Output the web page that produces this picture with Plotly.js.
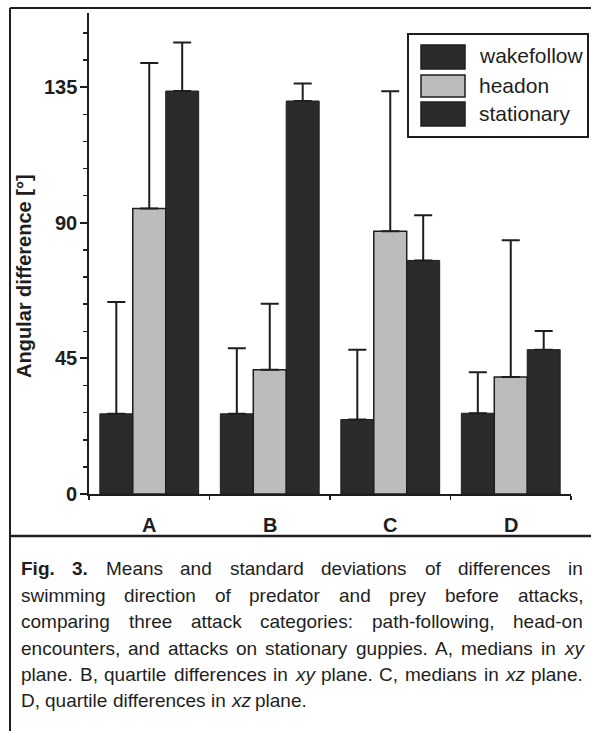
<!DOCTYPE html>
<html>
<head>
<meta charset="utf-8">
<script src="https://cdn.plot.ly/plotly-3.0.1.min.js"></script>
<style>html,body{margin:0;padding:0;background:#fff;}#chart{width:591px;height:731px;}</style>
</head>
<body>
<div id="chart"></div>
<script>
// ---- data ----
const categories = ['A', 'B', 'C', 'D'];
const seriesNames = ['wakefollow', 'headon', 'stationary'];
const wakefollow   = [26.6, 26.6, 24.7, 26.8];
const wakefollowSD = [37.1, 21.8, 23.2, 13.6];
const headon       = [94.7, 41.2, 87.2, 38.8];
const headonSD     = [48.3, 21.9, 46.4, 45.4];
const stationary   = [133.7, 130.4, 77.5, 47.9];
const stationarySD = [16.1, 5.8, 15.0, 6.2];
const yTickVals = [0, 45, 90, 135];
const yTickText = ['0', '45', '90', '135'];
const yAxisTitle = 'Angular difference [°]';
const captionLines = [
  [['Fig.', 'b'], ['3.', 'b'], ['Means'], ['and'], ['standard'], ['deviations'], ['of'], ['differences'], ['in']],
  [['swimming'], ['direction'], ['of'], ['predator'], ['and'], ['prey'], ['before'], ['attacks,']],
  [['comparing'], ['three'], ['attack'], ['categories:'], ['path-following,'], ['head-on']],
  [['encounters,'], ['and'], ['attacks'], ['on'], ['stationary'], ['guppies.'], ['A,'], ['medians'], ['in'], ['xy', 'i']],
  [['plane.'], ['B,'], ['quartile'], ['differences'], ['in'], ['xy', 'i'], ['plane.'], ['C,'], ['medians'], ['in'], ['xz', 'i'], ['plane.']],
  [['D,'], ['quartile'], ['differences'], ['in'], ['xz', 'i'], ['plane.']]
];

// ---- geometry helpers ----
const FW = 591, FH = 731;
const L = 89, R = 20, T = 13, B = 237;
const W = FW - L - R, H = FH - T - B;
const px = x => (x - L) / W;
const py = y => (FH - B - y) / H;
const FONT = '"Liberation Sans", Arial, Helvetica, sans-serif';
const INK = '#1e1e1e';
const DARK = '#2b2b2b';
const GRAY = '#bcbcbc';

function zeros(n) { const a = []; for (let i = 0; i < n; i++) a.push(0); return a; }

function errY(arr) {
  return {type: 'data', symmetric: false, array: arr, arrayminus: zeros(arr.length),
          color: INK, thickness: 2, width: 9};
}

const traces = [
  {type: 'bar', name: seriesNames[0], x: categories, y: wakefollow, error_y: errY(wakefollowSD),
   marker: {color: DARK, line: {color: INK, width: 1}}},
  {type: 'bar', name: seriesNames[1], x: categories, y: headon, error_y: errY(headonSD),
   marker: {color: GRAY, line: {color: INK, width: 1.5}}},
  {type: 'bar', name: seriesNames[2], x: categories, y: stationary, error_y: errY(stationarySD),
   marker: {color: DARK, line: {color: INK, width: 1}}}
];

const shapes = [];
const annotations = [];

// frame lines
function hline(x0, x1, y, w) { shapes.push({type: 'line', xref: 'paper', yref: 'paper', x0: px(x0), x1: px(x1), y0: py(y), y1: py(y), line: {color: INK, width: w || 2}}); }
function vline(x, y0, y1, w) { shapes.push({type: 'line', xref: 'paper', yref: 'paper', x0: px(x), x1: px(x), y0: py(y0), y1: py(y1), line: {color: INK, width: w || 2}}); }
hline(10, 600, 8, 2);
hline(10, 600, 536, 2.5);
vline(10, 8, 740, 2);

// custom legend
shapes.push({type: 'rect', xref: 'paper', yref: 'paper', x0: px(408), x1: px(588), y0: py(34), y1: py(137),
             line: {color: INK, width: 2}, fillcolor: 'rgba(0,0,0,0)'});
const swRows = [[45, 69], [75, 97], [102, 126]];
const swFill = [DARK, GRAY, DARK];
for (let i = 0; i < 3; i++) {
  shapes.push({type: 'rect', xref: 'paper', yref: 'paper', x0: px(421), x1: px(465),
               y0: py(swRows[i][0]), y1: py(swRows[i][1]), line: {color: INK, width: 1.5}, fillcolor: swFill[i]});
  annotations.push({xref: 'paper', yref: 'paper', x: px(478), y: py((swRows[i][0] + swRows[i][1]) / 2 - 1),
                    xanchor: 'left', yanchor: 'middle', showarrow: false, borderpad: 0,
                    text: seriesNames[i], font: {family: FONT, size: 21, color: INK}});
}

// y axis title
annotations.push({xref: 'paper', yref: 'paper', x: px(24), y: py(276), xanchor: 'center', yanchor: 'middle',
                  textangle: -90, showarrow: false, text: '<b>' + yAxisTitle + '</b>',
                  font: {family: FONT, size: 20, color: INK}});

// tick labels placed through the axes' own scales
yTickVals.forEach((v, i) => {
  annotations.push({xref: 'paper', yref: 'y', x: px(78), y: v, xanchor: 'right', yanchor: 'middle',
                    showarrow: false, borderpad: 0, text: '<b>' + yTickText[i] + '</b>',
                    font: {family: FONT, size: 20, color: INK}});
});
categories.forEach(c => {
  annotations.push({xref: 'x', yref: 'paper', x: c, y: py(525), xanchor: 'center', yanchor: 'middle',
                    showarrow: false, borderpad: 0, text: '<b>' + c + '</b>',
                    font: {family: FONT, size: 20, color: INK}});
});

// caption, justified lines
const cv = document.createElement('canvas').getContext('2d');
const CAP = 19;
function wordWidth(w) {
  const st = w[1] === 'b' ? 'bold ' : (w[1] === 'i' ? 'italic ' : '');
  cv.font = st + CAP + 'px "Liberation Sans"';
  return cv.measureText(w[0]).width;
}
const capLeft = 20, capRight = 582;
const capY = [568, 595, 621, 648, 674, 700];
captionLines.forEach((line, li) => {
  const widths = line.map(wordWidth);
  const total = widths.reduce((a, b) => a + b, 0);
  let gap = (capRight - capLeft - total) / (line.length - 1);
  if (li === captionLines.length - 1) { cv.font = CAP + 'px "Liberation Sans"'; gap = cv.measureText(' ').width; }
  let x = capLeft;
  line.forEach((w, wi) => {
    let t = w[0];
    if (w[1] === 'b') t = '<b>' + t + '</b>';
    if (w[1] === 'i') t = '<i>' + t + '</i>';
    annotations.push({xref: 'paper', yref: 'paper', x: px(x), y: py(capY[li]), xanchor: 'left', yanchor: 'middle',
                      showarrow: false, borderpad: 0, text: t, font: {family: FONT, size: CAP, color: INK}});
    x += widths[wi] + gap;
  });
});

const layout = {
  width: FW, height: FH,
  margin: {l: L, r: R, t: T, b: B, pad: 0},
  paper_bgcolor: '#ffffff', plot_bgcolor: '#ffffff',
  showlegend: false,
  barmode: 'group', bargap: 0.18, bargroupgap: 0,
  font: {family: FONT, color: INK, size: 20},
  xaxis: {
    type: 'category', range: [-0.5, 3.5], showgrid: false, zeroline: false,
    showline: true, linecolor: INK, linewidth: 2,
    ticks: 'outside', tickson: 'boundaries', ticklen: 4, tickwidth: 1.5, tickcolor: INK,
    showticklabels: false
  },
  yaxis: {
    range: [0, 159.6], showgrid: false, zeroline: false,
    showline: true, linecolor: INK, linewidth: 2,
    tickmode: 'array', tickvals: yTickVals,
    ticks: 'outside', ticklen: 7, tickwidth: 2, tickcolor: INK,
    minor: {dtick: 9, tick0: 0, ticks: 'outside', ticklen: 4, tickwidth: 1.5, tickcolor: INK, showgrid: false},
    showticklabels: false
  },
  shapes: shapes,
  annotations: annotations
};

Plotly.newPlot('chart', traces, layout, {displayModeBar: false, staticPlot: true});
</script>
</body>
</html>
